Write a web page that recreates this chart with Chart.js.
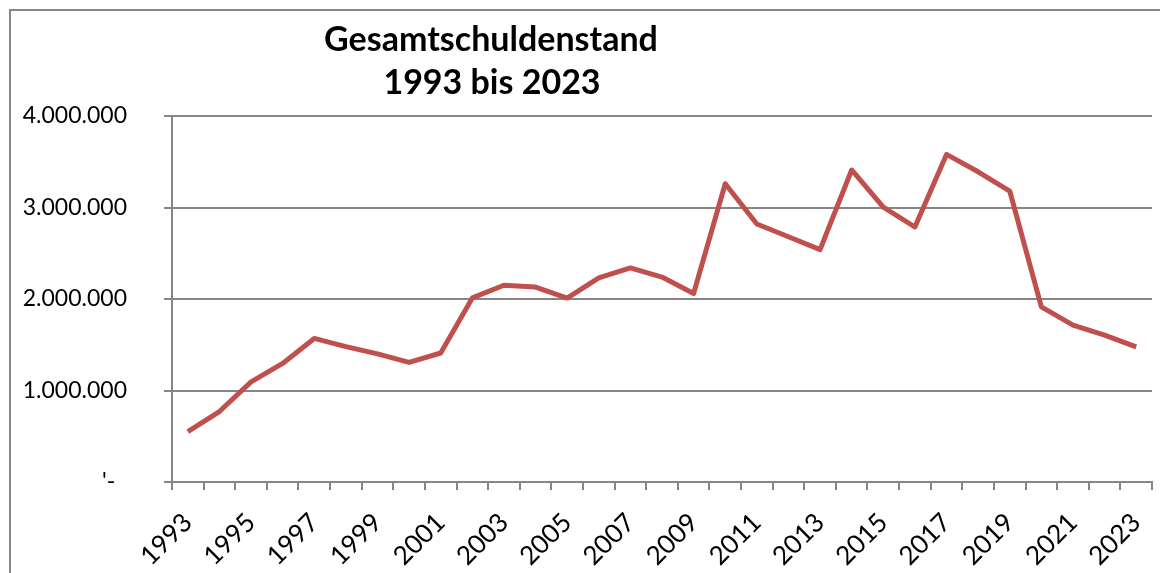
<!DOCTYPE html>
<html>
<head>
<meta charset="utf-8">
<script src="https://cdn.jsdelivr.net/npm/chart.js@4/dist/chart.umd.min.js"></script>
<style>
  html, body { margin: 0; padding: 0; background: #fff; }
  #wrap { width: 1160px; height: 573px; position: relative; }
</style>
</head>
<body>
<div id="wrap"><canvas id="c" width="1160" height="573"></canvas></div>
<script>
const years = ['1993','1994','1995','1996','1997','1998','1999','2000','2001','2002','2003','2004','2005','2006','2007','2008','2009','2010','2011','2012','2013','2014','2015','2016','2017','2018','2019','2020','2021','2022','2023'];
const schulden = [550000, 770000, 1095000, 1296000, 1569000, 1480000, 1400000, 1307000, 1410000, 2012000, 2150000, 2130000, 2010000, 2230000, 2340000, 2240000, 2060000, 3260000, 2820000, 2680000, 2540000, 3410000, 3005000, 2787000, 3580000, 3390000, 3180000, 1914000, 1714000, 1605000, 1477000];
const yTicks = [0, 1000000, 2000000, 3000000, 4000000];
const titleLines = ['Gesamtschuldenstand', '1993 bis 2023'];

const fontFam = 'Lato, "Open Sans", sans-serif';
const gray = '#868686';

function fmt(v) {
  if (v === 0) return "'-  ";
  return v.toString().replace(/\B(?=(\d{3})+(?!\d))/g, '.');
}

const framePlugin = {
  id: 'frame',
  beforeDraw(chart) {
    const ctx = chart.ctx;
    ctx.save();
    ctx.fillStyle = '#fff';
    ctx.fillRect(0, 0, chart.width, chart.height);
    ctx.strokeStyle = gray;
    ctx.lineWidth = 2;
    ctx.beginPath();
    ctx.moveTo(10, 573);
    ctx.lineTo(10, 10);
    ctx.lineTo(1160, 10);
    ctx.stroke();
    ctx.restore();
  },
  afterDraw(chart) {
    const ctx = chart.ctx;
    ctx.save();
    ctx.fillStyle = '#000';
    ctx.font = 'bold 34px ' + fontFam;
    ctx.textAlign = 'center';
    ctx.textBaseline = 'alphabetic';
    ctx.fillText(titleLines[0], 491, 51);
    ctx.fillText(titleLines[1], 492, 94);
    ctx.restore();
  }
};

new Chart(document.getElementById('c'), {
  type: 'line',
  data: {
    labels: years,
    datasets: [{
      data: schulden,
      borderColor: '#C0504D',
      borderWidth: 5,
      borderJoinStyle: 'round',
      pointRadius: 0,
      pointHoverRadius: 0,
      tension: 0,
      fill: false
    }]
  },
  options: {
    responsive: false,
    animation: false,
    events: [],
    layout: { padding: { top: 116, right: 8, bottom: 0, left: 0 } },
    plugins: { legend: { display: false }, tooltip: { enabled: false }, title: { display: false } },
    scales: {
      x: {
        type: 'category',
        offset: true,
        grid: { display: true, drawOnChartArea: false, drawTicks: true, tickLength: 8, color: gray, lineWidth: 2, offset: true },
        border: { display: true, color: gray, width: 2 },
        ticks: {
          autoSkip: false,
          minRotation: 45,
          maxRotation: 45,
          padding: 17,
          color: '#000',
          font: { family: fontFam, size: 26 },
          callback: function(v, i) { return i % 2 === 0 ? years[i] : ''; }
        },
        afterFit(scale) { scale.height = 91; scale.paddingRight = 0; scale.paddingLeft = 0; }
      },
      y: {
        min: 0,
        max: 4000000,
        afterBuildTicks(scale) { scale.ticks = yTicks.map(v => ({ value: v })); },
        grid: { color: gray, lineWidth: 2, tickLength: 8, drawTicks: true },
        border: { display: true, color: gray, width: 2 },
        ticks: {
          padding: 37,
          color: '#000',
          font: { family: fontFam, size: 23 },
          callback: function(v) { return fmt(v); }
        },
        afterFit(scale) { scale.width = 172; }
      }
    }
  },
  plugins: [framePlugin]
});
</script>
</body>
</html>
